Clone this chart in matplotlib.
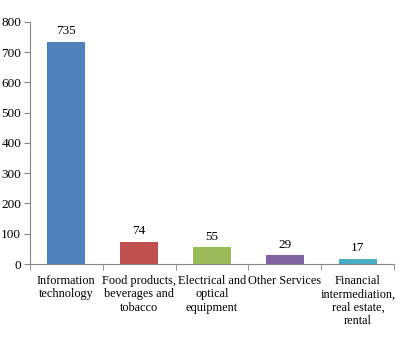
import numpy as np
import matplotlib
matplotlib.use("Agg")
import matplotlib.pyplot as plt

plt.rcParams["font.family"] = ["Liberation Serif", "DejaVu Serif"]

categories = [
    "Information\ntechnology",
    "Food products,\nbeverages and\ntobacco",
    "Electrical and\noptical\nequipment",
    "Other Services",
    "Financial\nintermediation,\nreal estate,\nrental",
]
values = [735, 74, 55, 29, 17]
colors = ["#4F81BD", "#C0504D", "#9BBB59", "#8064A2", "#4BACC6"]

fig = plt.figure(figsize=(4.0, 3.42), dpi=100)
ax = fig.add_axes([0.074, 0.228, 0.912, 0.708])

x = np.arange(len(categories))
ax.bar(x, values, width=0.52, color=colors)
for xi, v in zip(x, values):
    ax.text(xi, v + 15, str(v), ha="center", va="bottom", fontsize=9.5)

ax.set_xlim(-0.5, len(categories) - 0.5)
ax.set_ylim(0, 800)
ax.set_yticks(range(0, 801, 100))
ax.set_xticks(x)
ax.set_xticklabels(categories, fontsize=8.8, linespacing=1.15)
ax.set_xticks(np.arange(-0.5, len(categories)), minor=True)
ax.tick_params(axis="x", which="major", length=0, pad=8)
ax.tick_params(axis="x", which="minor", length=4, color="#868686")
ax.tick_params(axis="y", labelsize=9.5, length=4, color="#868686", pad=2)

ax.spines[["top", "right"]].set_visible(False)
ax.spines["left"].set_color("#868686")
ax.spines["bottom"].set_color("#868686")

fig.savefig("out.png", dpi=100)
